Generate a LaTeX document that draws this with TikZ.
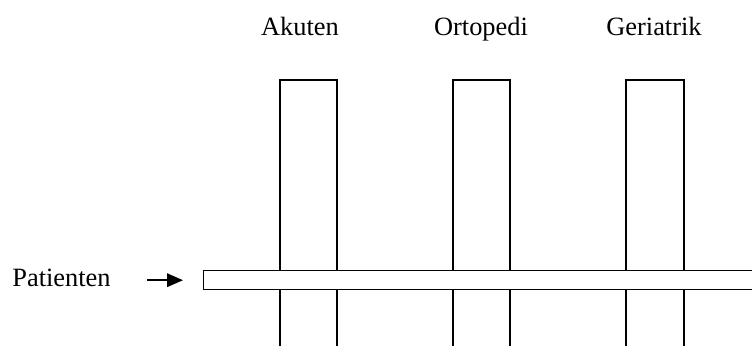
\documentclass[tikz,border=0pt]{standalone}
\usepackage{fontspec}
\setmainfont{Liberation Serif}
\usetikzlibrary{arrows.meta}
\begin{document}
\begin{tikzpicture}[x=0.5pt,y=-0.5pt,
  lbl/.style={font=\fontsize{13.2}{15}\selectfont, inner sep=0pt},
  column/.style={draw, line width=0.7pt},
  barbox/.style={draw, fill=white, line width=0.7pt, inner sep=0pt, anchor=north west,
    minimum width=278.5pt, minimum height=9.5pt},
  arr/.style={line width=0.8pt, -{Triangle[length=8pt,width=6.8pt]}}]
\useasboundingbox (0,0) rectangle (752,345);
\clip (0,0) rectangle (752,345);
% labels
\node[lbl, anchor=base] (akuten) at (300,35) {Akuten};
\node[lbl, anchor=base] (ortopedi) at (481,35) {Ortopedi};
\node[lbl, anchor=base] (geriatrik) at (654,35) {Geriatrik};
% columns
\draw[column] (280,360) -- (280,80) -- (337,80) -- (337,360);
\draw[column] (453,360) -- (453,80) -- (510,80) -- (510,360);
\draw[column] (626,360) -- (626,80) -- (684,80) -- (684,360);
% bar
\node[barbox] (bar) at (203,270) {};
% patient label and arrow
\node[lbl, anchor=base west] (pat) at (12,286) {Patienten};
\draw[arr] ([xshift=18pt]pat.east |- bar.west) -- ([xshift=-10pt]bar.west);
\end{tikzpicture}
\end{document}
